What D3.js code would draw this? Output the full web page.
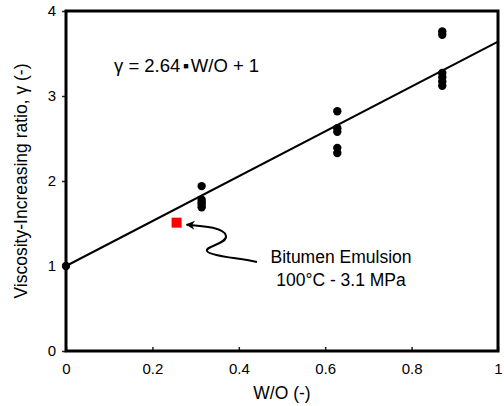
<!DOCTYPE html>
<html>
<head>
<meta charset="utf-8">
<script src="https://cdn.jsdelivr.net/npm/d3@7"></script>
<style>
  html, body { margin: 0; padding: 0; background: #fff; }
  svg { display: block; font-family: Arial, "Liberation Sans", Helvetica, sans-serif; }
</style>
</head>
<body>
<svg id="chart" width="504" height="406"></svg>
<script>
// Measured viscosity-increasing ratio vs. water/oil ratio
const woValues    = [0, 0.314, 0.314, 0.314, 0.314, 0.314,
                     0.628, 0.628, 0.628, 0.628, 0.628,
                     0.871, 0.871, 0.871, 0.871, 0.871, 0.871];
const gammaValues = [1, 1.94, 1.78, 1.75, 1.72, 1.69,
                     2.82, 2.62, 2.58, 2.39, 2.33,
                     3.76, 3.72, 3.27, 3.22, 3.17, 3.12];

// Bitumen emulsion point
const bitumenWO = [0.256];
const bitumenGamma = [1.51];

// Linear fit gamma = slope * W/O + intercept
const fitSlope = 2.64;
const fitIntercept = 1;

const xTicks = [0, 0.2, 0.4, 0.6, 0.8, 1];
const xTickLabels = ["0", "0.2", "0.4", "0.6", "0.8", "1"];
const yTicks = [0, 1, 2, 3, 4];
const yTickLabels = ["0", "1", "2", "3", "4"];

const W = 504, H = 406;
const margin = {left: 66, right: 6, top: 11, bottom: 55};
const innerW = W - margin.left - margin.right;
const innerH = H - margin.top - margin.bottom;

const svg = d3.select("#chart");
const g = svg.append("g").attr("transform", `translate(${margin.left},${margin.top})`);

const x = d3.scaleLinear().domain([0, 1]).range([0, innerW]);
const y = d3.scaleLinear().domain([0, 4]).range([innerH, 0]);

// x axis: ticks pointing inward
const xAxis = g.append("g")
  .attr("transform", `translate(0,${innerH})`)
  .call(d3.axisBottom(x).tickValues(xTicks).tickSizeInner(-4).tickSizeOuter(0)
    .tickFormat((d, i) => xTickLabels[i]).tickPadding(12));
xAxis.select(".domain").remove();
xAxis.selectAll(".tick line").attr("stroke", "#222").attr("stroke-width", 1.5);
xAxis.selectAll(".tick text").attr("font-size", 15).attr("fill", "#000")
  .attr("font-family", "Arial, 'Liberation Sans', sans-serif");

// y axis: ticks pointing outward
const yAxis = g.append("g")
  .call(d3.axisLeft(y).tickValues(yTicks).tickSizeInner(4).tickSizeOuter(0)
    .tickFormat((d, i) => yTickLabels[i]).tickPadding(6));
yAxis.select(".domain").remove();
yAxis.selectAll(".tick line").attr("stroke", "#222").attr("stroke-width", 1.5);
yAxis.selectAll(".tick text").attr("font-size", 15).attr("fill", "#000")
  .attr("font-family", "Arial, 'Liberation Sans', sans-serif");

// fitted line
g.append("line")
  .attr("x1", x(0)).attr("y1", y(fitIntercept))
  .attr("x2", x(1)).attr("y2", y(fitSlope * 1 + fitIntercept))
  .attr("stroke", "#000").attr("stroke-width", 2);

// measured points
g.selectAll("circle.pt")
  .data(woValues.map((v, i) => ({wo: v, gamma: gammaValues[i]})))
  .join("circle")
  .attr("class", "pt")
  .attr("cx", d => x(d.wo))
  .attr("cy", d => y(d.gamma))
  .attr("r", 4.2)
  .attr("fill", "#000");

// bitumen emulsion marker
const sq = 10;
g.selectAll("rect.bit")
  .data(bitumenWO.map((v, i) => ({wo: v, gamma: bitumenGamma[i]})))
  .join("rect")
  .attr("class", "bit")
  .attr("x", d => x(d.wo) - sq / 2)
  .attr("y", d => y(d.gamma) - sq / 2)
  .attr("width", sq).attr("height", sq)
  .attr("fill", "#ff0000");

// frame
g.append("rect")
  .attr("x", 0).attr("y", 0).attr("width", innerW).attr("height", innerH)
  .attr("fill", "none").attr("stroke", "#000").attr("stroke-width", 3);

// equation
const eq = svg.append("text")
  .attr("x", 114).attr("y", 72)
  .attr("font-size", 18.5).attr("fill", "#000");
eq.append("tspan").text("γ = 2.64");
eq.append("tspan").attr("font-size", 9).attr("dx", 3).attr("dy", -3).text("■");
eq.append("tspan").attr("dx", 2).attr("dy", 3).text("W/O + 1");

// annotation arrow
svg.append("defs").append("marker")
  .attr("id", "arrowhead")
  .attr("viewBox", "0 0 10 10")
  .attr("refX", 9).attr("refY", 5)
  .attr("markerWidth", 11).attr("markerHeight", 9)
  .attr("markerUnits", "userSpaceOnUse")
  .attr("orient", "auto")
  .append("path")
  .attr("d", "M0,0 L10,5 L0,10 L3,5 Z")
  .attr("fill", "#000");

const bx = margin.left + x(bitumenWO[0]);
const by = margin.top + y(bitumenGamma[0]);
svg.append("path")
  .attr("d", `M257,262 C240,258 209,256 207,251 C205,246 227,244 226,236 C225,228 205,226 ${bx + 10},${by + 2}`)
  .attr("fill", "none").attr("stroke", "#000").attr("stroke-width", 2)
  .attr("marker-end", "url(#arrowhead)");

// annotation text
const ann = svg.append("text").attr("font-size", 17.5).attr("fill", "#000").attr("text-anchor", "middle");
ann.append("tspan").attr("x", 341).attr("y", 263).text("Bitumen Emulsion");
ann.append("tspan").attr("x", 341).attr("y", 286).text("100°C - 3.1 MPa");

// axis titles
svg.append("text")
  .attr("x", margin.left + innerW / 2).attr("y", 399)
  .attr("text-anchor", "middle").attr("font-size", 17.5).attr("fill", "#000")
  .text("W/O (-)");

svg.append("text")
  .attr("transform", `translate(27,${margin.top + innerH / 2}) rotate(-90)`)
  .attr("text-anchor", "middle").attr("font-size", 17.5).attr("fill", "#000")
  .text("Viscosity-Increasing ratio, γ (-)");
</script>
</body>
</html>
